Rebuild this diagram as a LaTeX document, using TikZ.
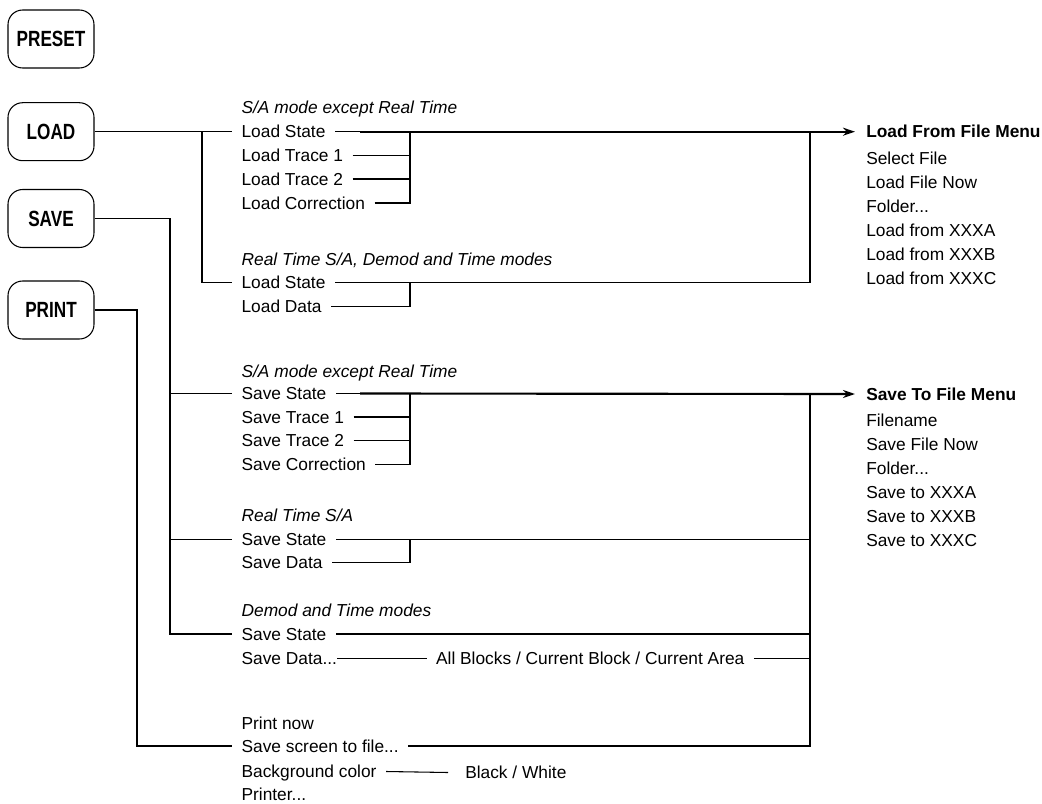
\documentclass[tikz,border=0pt]{standalone}
\usepackage{fontspec}
\setmainfont{Liberation Sans}
\newfontface\btnfont{Liberation Sans Bold}[FakeStretch=0.78]
\usetikzlibrary{arrows.meta}
\tikzset{
  btn/.style={draw, line width=0.8pt, rounded corners=11pt, minimum width=64.5pt, minimum height=43.5pt, inner sep=0pt, font=\fontsize{16.5pt}{18pt}\btnfont},
  item/.style={anchor=west, inner xsep=7pt, inner ysep=0pt, text height=9.3pt, text depth=0pt, font=\fontsize{13pt}{15pt}\selectfont},
  hdr/.style={item, font=\fontsize{13pt}{15pt}\selectfont\itshape},
  menu/.style={anchor=west, inner sep=0pt, text height=9.3pt, text depth=0pt, font=\fontsize{13pt}{15pt}\selectfont},
  ln/.style={line width=0.8pt},
  thk/.style={line width=1.6pt},
  arr/.style={thk, -{Stealth[length=9pt,width=6pt]}}
}
\begin{document}
\begin{tikzpicture}[x=0.75pt,y=-0.75pt]
\useasboundingbox (0,0) rectangle (1042,803);
% buttons
\node[btn] (preset) at (51,39) {PRESET};
\node[btn] (load) at (51,131.7) {LOAD};
\node[btn] (save) at (51,218.5) {SAVE};
\node[btn] (print) at (51,310) {PRINT};
% bus coordinates
\coordinate (lbus) at (202,0);
\coordinate (sbus) at (170,0);
\coordinate (pbus) at (137,0);
\coordinate (tk) at (360,0);
\coordinate (lg) at (410,0);
\coordinate (lr) at (810,0);
% LOAD items
\node[hdr] (lh1) at (232,107) {S/A mode except Real Time};
\node[item] (ls1) at (232,131.7) {Load State};
\node[item] (lt1) at (232,155.3) {Load Trace 1};
\node[item] (lt2) at (232,179) {Load Trace 2};
\node[item] (lc) at (232,203) {Load Correction};
\node[hdr] (lh2) at (232,259.5) {Real Time S/A, Demod and Time modes};
\node[item] (ls2) at (232,282.5) {Load State};
\node[item] (ld) at (232,306.5) {Load Data};
% Load menu
\node[menu] (lm) at (866,131.7) {\bfseries Load From File Menu};
\node[menu] (lm1) at (866,158.5) {Select File};
\node[menu] (lm2) at (866,182.5) {Load File Now};
\node[menu] (lm3) at (866,206.5) {Folder...};
\node[menu] (lm4) at (866,230.5) {Load from XXXA};
\node[menu] (lm5) at (866,254.5) {Load from XXXB};
\node[menu] (lm6) at (866,278.5) {Load from XXXC};
% SAVE items
\node[hdr] (sh1) at (232,371.5) {S/A mode except Real Time};
\node[item] (ss1) at (232,393.5) {Save State};
\node[item] (st1) at (232,417) {Save Trace 1};
\node[item] (st2) at (232,440.5) {Save Trace 2};
\node[item] (sc) at (232,464.5) {Save Correction};
\node[hdr] (sh2) at (232,515.5) {Real Time S/A};
\node[item] (ss2) at (232,539.5) {Save State};
\node[item] (sd) at (232,562.5) {Save Data};
\node[hdr] (sh3) at (232,610) {Demod and Time modes};
\node[item] (ds) at (232,634) {Save State};
\node[item] (dd) at (232,658.5) {Save Data...};
\node[item] (ab) at (426.5,658.5) {All Blocks / Current Block / Current Area};
% Save menu
\node[menu] (sm) at (866,394) {\bfseries Save To File Menu};
\node[menu] (sm1) at (866,420) {Filename};
\node[menu] (sm2) at (866,444) {Save File Now};
\node[menu] (sm3) at (866,468) {Folder...};
\node[menu] (sm4) at (866,492) {Save to XXXA};
\node[menu] (sm5) at (866,516) {Save to XXXB};
\node[menu] (sm6) at (866,540) {Save to XXXC};
% PRINT items
\node[item] (pn) at (232,723) {Print now};
\node[item] (pss) at (232,746) {Save screen to file...};
\node[item] (bg) at (232,771.5) {Background color};
\node[item, inner xsep=12.75pt] (bw) at (448,772.5) {Black / White};
\node[item] (pr) at (232,794) {Printer...};
% LOAD connectors
\draw[ln] (load.east) -- (ls1.west);
\draw[ln] (ls1.west -| lbus) |- (ls2.west);
\draw[ln] (ls1.east) -- (ls1.east -| tk);
\draw[arr] (ls1.east -| tk) -- ([xshift=-8.25pt]lm.west);
\draw[ln] (lt1.east) -- (lt1.east -| lg);
\draw[ln] (lt2.east) -- (lt2.east -| lg);
\draw[ln] (lc.east) -| (ls1.east -| lg);
\draw[ln] (ls2.east) -| (ls1.east -| lr);
\draw[ln] (ld.east) -| (ls2.east -| lg);
% SAVE connectors
\draw[ln] (save.east) -- (save.east -| sbus) |- (ds.west);
\draw[ln] (ss1.west -| sbus) -- (ss1.west);
\draw[ln] (ss2.west -| sbus) -- (ss2.west);
\draw[ln] (ss1.east) -- (ss1.east -| tk);
\draw[arr] (ss1.east -| tk) -- ([xshift=-8.25pt]sm.west);
\draw[ln] (st1.east) -- (st1.east -| lg);
\draw[ln] (st2.east) -- (st2.east -| lg);
\draw[ln] (sc.east) -| (ss1.east -| lg);
\draw[ln] (ss2.east) -- (ss2.east -| lr);
\draw[ln] (sd.east) -| (ss2.east -| lg);
\draw[ln] (ds.east) -- (ds.east -| lr);
\draw[ln] ([xshift=-7pt]dd.east) -- (ab.west);
\draw[ln] (ab.east) -- (ab.east -| lr);
\draw[ln] (pss.east) -| (ss1.east -| lr);
% PRINT connectors
\draw[ln] (print.east) -- (print.east -| pbus) |- (pss.west);
\draw[ln] (bg.east) -- (bw.west);
\end{tikzpicture}
\end{document}
